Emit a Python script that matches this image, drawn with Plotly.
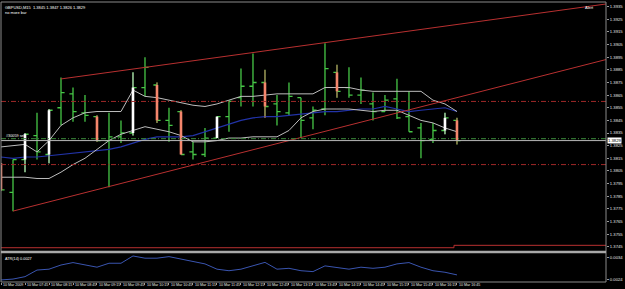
import plotly.graph_objects as go

# ---------------- data ----------------
bar_idx = list(range(39))
opens = [1.3811, 1.3788, 1.3814, 1.3833, 1.3818, 1.3855, 1.3866, 1.3851, 1.3848, 1.3829,
         1.3832, 1.3835, 1.3871, 1.3873, 1.3845, 1.3852, 1.3820, 1.3818, 1.3831, 1.3848,
         1.3863, 1.3872, 1.3875, 1.3858, 1.3851, 1.3863, 1.3847, 1.3854, 1.3883, 1.3871,
         1.3865, 1.3858, 1.3852, 1.3862, 1.3848, 1.3839, 1.3830, 1.3837, 1.3845]
highs = [1.3811, 1.3814, 1.3835, 1.3851, 1.3854, 1.3879, 1.3871, 1.3865, 1.3849, 1.3851,
         1.3845, 1.3883, 1.3895, 1.3875, 1.3855, 1.3853, 1.3828, 1.3839, 1.3848, 1.3861,
         1.3886, 1.3898, 1.3885, 1.3865, 1.3875, 1.3863, 1.3856, 1.3906, 1.3889, 1.3887,
         1.3879, 1.3867, 1.3865, 1.3878, 1.3868, 1.3843, 1.3843, 1.3851, 1.3847]
lows = [1.3789, 1.3773, 1.3804, 1.3814, 1.3811, 1.3841, 1.3844, 1.3844, 1.3828, 1.3792,
        1.3827, 1.3833, 1.3864, 1.3843, 1.3828, 1.3818, 1.3814, 1.3816, 1.3831, 1.3836,
        1.3856, 1.3856, 1.3847, 1.3841, 1.3849, 1.3831, 1.3838, 1.3849, 1.3863, 1.3863,
        1.3858, 1.3845, 1.3852, 1.3846, 1.3836, 1.3815, 1.3827, 1.3834, 1.3826]
closes = [1.3790, 1.3814, 1.3834, 1.3820, 1.3853, 1.3867, 1.3852, 1.3849, 1.3829, 1.3832,
          1.3835, 1.3871, 1.3887, 1.3845, 1.3841, 1.3818, 1.3818, 1.3831, 1.3848, 1.3860,
          1.3872, 1.3875, 1.3856, 1.3852, 1.3864, 1.3845, 1.3853, 1.3886, 1.3868, 1.3865,
          1.3869, 1.3852, 1.3861, 1.3847, 1.3836, 1.3829, 1.3837, 1.3847, 1.3829]
# painted signal bars: 'w' = white (bull), 's' = salmon (bear)
paint = {0: 's', 2: 'w', 4: 'w', 8: 's', 11: 'w', 13: 's', 15: 's', 18: 'w',
         22: 's', 28: 's', 37: 'w', 38: 's'}

band_upper = [1.3824, 1.3825, 1.3826, 1.3820, 1.3829, 1.3841, 1.3847, 1.3851, 1.3852, 1.3852,
              1.3852, 1.3869, 1.3864, 1.3863, 1.3861, 1.3859, 1.3857, 1.3856, 1.3858, 1.3861,
              1.3864, 1.3864, 1.3865, 1.3866, 1.3866, 1.3866, 1.3866, 1.3871, 1.3871, 1.3871,
              1.3869, 1.3868, 1.3868, 1.3868, 1.3868, 1.3868, 1.3861, 1.3858, 1.3852]
band_lower = [1.3800, 1.3800, 1.3800, 1.3799, 1.3799, 1.3804, 1.3810, 1.3815, 1.3822, 1.3829,
              1.3834, 1.3837, 1.3840, 1.3838, 1.3836, 1.3833, 1.3828, 1.3828, 1.3829, 1.3831,
              1.3831, 1.3832, 1.3832, 1.3832, 1.3837, 1.3847, 1.3852, 1.3854, 1.3854, 1.3854,
              1.3853, 1.3852, 1.3853, 1.3853, 1.3849, 1.3845, 1.3843, 1.3839, 1.3836]
ma_blue = [1.3816, 1.3815, 1.3816, 1.3816, 1.3817, 1.3818, 1.3819, 1.3820, 1.3821, 1.3822,
           1.3824, 1.3827, 1.3830, 1.3832, 1.3832, 1.3832, 1.3833, 1.3836, 1.3839, 1.3842,
           1.3845, 1.3847, 1.3848, 1.3848, 1.3849, 1.3850, 1.3851, 1.3852, 1.3852, 1.3853,
           1.3854, 1.3854, 1.3856, 1.3854, 1.3852, 1.3853, 1.3854, 1.3855, 1.3852]
atr14 = [0.00237, 0.00241, 0.00252, 0.00282, 0.00286, 0.00305, 0.00316, 0.00305, 0.00295, 0.00313,
         0.00313, 0.00346, 0.00336, 0.00336, 0.00343, 0.00332, 0.00320, 0.00310, 0.00286, 0.00279,
         0.00286, 0.00301, 0.00317, 0.00286, 0.00290, 0.00279, 0.00275, 0.00301, 0.00295, 0.00286,
         0.00295, 0.00290, 0.00295, 0.00310, 0.00316, 0.00295, 0.00279, 0.00272, 0.00260]

time_labels = ["10 Mar 2009", "10 Mar 07:45", "10 Mar 08:15", "10 Mar 08:45", "10 Mar 09:15",
               "10 Mar 09:45", "10 Mar 10:15", "10 Mar 10:45", "10 Mar 11:15", "10 Mar 11:45",
               "10 Mar 12:15", "10 Mar 12:45", "10 Mar 13:15", "10 Mar 13:45", "10 Mar 14:15",
               "10 Mar 14:45", "10 Mar 15:15", "10 Mar 15:45", "10 Mar 16:15", "10 Mar 16:45"]
time_label_bars = list(range(0, 39, 2))

price_ticks = [round(1.3745 + 0.001 * k, 4) for k in range(20)]
atr_ticks = [0.0024, 0.0034]

upper_trend = [(5, 1.38778), (38, 1.39209)]
lower_trend = [(1, 1.37732), (38, 1.38630)]
red_levels = [1.3860, 1.3810]
order_level = 1.38305
bid_price = 1.3829
bottom_line_levels = [1.37442, 1.37461]
bottom_line_break = 37.75

title_text = "GBPUSD,M15  1.3845 1.3847 1.3826 1.3829"

X_MIN, X_MAX = 0.0, 50.42
Y_MIN, Y_MAX = 1.37424, 1.39387
A_MIN, A_MAX = 0.002277, 0.00355

FONT = "Liberation Sans"
GREEN = "#46c646"
RED = "#b83030"

fig = go.Figure()

# price channel & MA
fig.add_trace(go.Scatter(x=bar_idx, y=ma_blue, mode="lines",
                         line=dict(color="#2233a8", width=1.2), xaxis="x", yaxis="y"))
for band in (band_upper, band_lower):
    fig.add_trace(go.Scatter(x=bar_idx, y=band, mode="lines",
                             line=dict(color="#bdbdbd", width=1), xaxis="x", yaxis="y"))

# OHLC bars
fig.add_trace(go.Ohlc(x=bar_idx, open=opens, high=highs, low=lows, close=closes,
                      increasing=dict(line=dict(color=GREEN, width=1.3)),
                      decreasing=dict(line=dict(color=GREEN, width=1.3)),
                      tickwidth=0.3, xaxis="x", yaxis="y"))

# painted bars
for kind, body_col, wick_col in (("w", "#ffffff", "#c8c8c8"), ("s", "#f4866c", "#c06a58")):
    wx, wy, bx, by = [], [], [], []
    for i in bar_idx:
        if paint.get(i) == kind:
            wx += [i, i, None]
            wy += [lows[i], highs[i], None]
            bx += [i, i, None]
            by += [opens[i], closes[i], None]
    fig.add_trace(go.Scatter(x=wx, y=wy, mode="lines", line=dict(color=wick_col, width=1),
                             xaxis="x", yaxis="y"))
    fig.add_trace(go.Scatter(x=bx, y=by, mode="lines", line=dict(color=body_col, width=2.6),
                             xaxis="x", yaxis="y"))

# trend lines (extended to the right edge)
for (xa, ya), (xb, yb) in (upper_trend, lower_trend):
    slope = (yb - ya) / (xb - xa)
    fig.add_trace(go.Scatter(x=[xa, X_MAX], y=[ya, ya + slope * (X_MAX - xa)], mode="lines",
                             line=dict(color=RED, width=1), xaxis="x", yaxis="y"))

# horizontal levels
for lv in red_levels:
    fig.add_trace(go.Scatter(x=[X_MIN, X_MAX], y=[lv, lv], mode="lines",
                             line=dict(color="#a02828", width=1, dash="5px,2px,1px,2px"),
                             xaxis="x", yaxis="y"))
fig.add_trace(go.Scatter(x=[X_MIN, X_MAX], y=[order_level, order_level], mode="lines",
                         line=dict(color="#3c8c3c", width=1, dash="5px,2px,1px,2px"),
                         xaxis="x", yaxis="y"))
fig.add_trace(go.Scatter(x=[X_MIN, X_MAX], y=[bid_price, bid_price], mode="lines",
                         line=dict(color="#b8b8b8", width=1), xaxis="x", yaxis="y"))
fig.add_trace(go.Scatter(x=[X_MIN, bottom_line_break, bottom_line_break, X_MAX],
                         y=[bottom_line_levels[0], bottom_line_levels[0],
                            bottom_line_levels[1], bottom_line_levels[1]],
                         mode="lines", line=dict(color=RED, width=1), xaxis="x", yaxis="y"))

# ATR panel
fig.add_trace(go.Scatter(x=bar_idx, y=atr14, mode="lines",
                         line=dict(color="#3a55b0", width=1), xaxis="x", yaxis="y2"))

annotations = []
small = dict(family=FONT, size=3.6, color="#e6e6e6")
for b, t in zip(time_label_bars, time_labels):
    annotations.append(dict(x=b, y=-0.011, xref="x", yref="paper", text=t, showarrow=False,
                            xanchor="left", yanchor="middle", xshift=0, font=small))
annotations.append(dict(x=0, y=1, xref="paper", yref="paper", text=title_text, showarrow=False,
                        xanchor="left", yanchor="top", xshift=2, yshift=-1,
                        font=dict(family=FONT, size=4, color="#ffffff")))
annotations.append(dict(x=0, y=1, xref="paper", yref="paper", text="no more bar", showarrow=False,
                        xanchor="left", yanchor="top", xshift=2, yshift=-6,
                        font=dict(family=FONT, size=4, color="#ffffff")))
annotations.append(dict(x=0, y=order_level, xref="paper", yref="y", text="#30059 sell",
                        showarrow=False, xanchor="left", yanchor="bottom", xshift=3, yshift=-1,
                        font=dict(family=FONT, size=3.8, color="#ffffff")))
annotations.append(dict(x=0, y=0.1, xref="paper", yref="paper", text="ATR(14) 0.0027",
                        showarrow=False, xanchor="left", yanchor="top", xshift=2, yshift=-1,
                        font=dict(family=FONT, size=3.8, color="#ffffff")))
annotations.append(dict(x=1, y=1, xref="paper", yref="paper", text="Alert",
                        showarrow=False, xanchor="right", yanchor="top", xshift=-10, yshift=-1,
                        font=dict(family=FONT, size=4, color="#ffffff")))
annotations.append(dict(x=1, y=bid_price, xref="paper", yref="y", text=f"{bid_price:.4f}",
                        showarrow=False, xanchor="left", yanchor="middle", xshift=1,
                        bgcolor="#ffffff", borderpad=0,
                        font=dict(family=FONT, size=4.2, color="#000000")))

shapes = [
    dict(type="rect", xref="paper", yref="paper", x0=0, x1=1, y0=0, y1=1,
         line=dict(color="#8a8a8a", width=1)),
    dict(type="line", xref="paper", yref="paper", x0=0, x1=1, y0=0.107, y1=0.107,
         line=dict(color="#a8a8a8", width=2.5)),
]

fig.update_layout(
    width=625, height=289,
    margin=dict(l=1, r=19, t=2, b=7),
    paper_bgcolor="#000000", plot_bgcolor="#000000",
    showlegend=False,
    annotations=annotations, shapes=shapes,
    xaxis=dict(range=[X_MIN, X_MAX], anchor="y2", showgrid=False, zeroline=False,
               showline=False, rangeslider=dict(visible=False),
               tickvals=time_label_bars, ticks="outside", ticklen=2, tickcolor="#9a9a9a",
               showticklabels=False, fixedrange=True),
    yaxis=dict(domain=[0.1143, 1], range=[Y_MIN, Y_MAX], side="right", anchor="x",
               showgrid=False, zeroline=False, showline=False,
               tickvals=price_ticks, tickformat=".4f", ticks="outside", ticklen=2,
               tickcolor="#9a9a9a", tickfont=dict(family=FONT, size=4.2, color="#e6e6e6")),
    yaxis2=dict(domain=[0, 0.1], range=[A_MIN, A_MAX], side="right", anchor="x",
                showgrid=False, zeroline=False, showline=False,
                tickvals=atr_ticks, tickformat=".4f", ticks="outside", ticklen=2,
                tickcolor="#9a9a9a", tickfont=dict(family=FONT, size=4.2, color="#e6e6e6")),
)

fig.write_html("out.html")
